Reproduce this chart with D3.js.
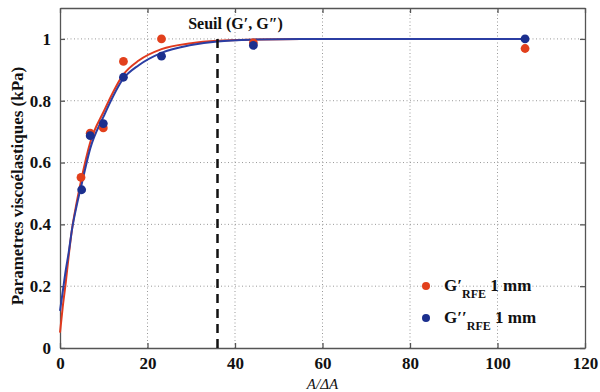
<!DOCTYPE html>
<html><head><meta charset="utf-8">
<script src="https://cdn.jsdelivr.net/npm/d3@7"></script>
<style>body{margin:0;background:#fff}svg{display:block}</style>
</head><body>
<script>
// Data
const gPrimeX = [4.8, 6.9, 9.9, 14.5, 23.2, 44.2, 106.3];
const gPrimeY = [0.552, 0.695, 0.712, 0.927, 1.0, 0.987, 0.969];
const gSecondX = [4.95, 6.9, 9.9, 14.5, 23.2, 44.2, 106.3];
const gSecondY = [0.512, 0.687, 0.726, 0.876, 0.944, 0.979, 1.0];
// fitted curves
const fitPrimeX = [0, 0.6, 1.3, 2.0, 2.7, 3.8, 4.8, 6.9, 10, 14.5, 18, 23.2, 30, 36, 45, 55, 106.3];
const fitPrimeY = [0.05, 0.13, 0.21, 0.3, 0.38, 0.47, 0.54, 0.665, 0.765, 0.885, 0.93, 0.967, 0.986, 0.994, 0.998, 1.0, 1.0];
const fitSecondX = [0, 0.6, 1.3, 2.0, 2.7, 3.8, 4.95, 6.9, 10, 14.5, 18, 23.2, 30, 36, 45, 55, 106.3];
const fitSecondY = [0.12, 0.18, 0.25, 0.31, 0.38, 0.46, 0.53, 0.645, 0.75, 0.872, 0.915, 0.955, 0.98, 0.992, 0.998, 1.0, 1.0];
const xTicks = [0, 20, 40, 60, 80, 100, 120];
const yTicks = [0, 0.2, 0.4, 0.6, 0.8, 1];
const seuilX = 36;
const seuilY = 1.0;
const seuilLabel = "Seuil (G\u2032, G\u2033)";
const redC = "#e2401c", blueC = "#1b2f8e";
const redLine = "#e03a1e", blueLine = "#2b3ea3";

const W = 600, H = 392;
const m = {l: 60, r: 15, t: 8, b: 44};
const svg = d3.select("body").append("svg").attr("width", W).attr("height", H);
const x = d3.scaleLinear().domain([0, 120]).range([m.l, W - m.r]);
const y = d3.scaleLinear().domain([0, 1.1]).range([H - m.b, m.t]);
const font = "'Liberation Serif','Times New Roman',serif";

// grid
const g = svg.append("g");
g.selectAll(".gx").data(xTicks.slice(1, -1)).join("line")
  .attr("x1", d => x(d)).attr("x2", d => x(d)).attr("y1", y(0)).attr("y2", y(1.1))
  .attr("stroke", "#999").attr("stroke-width", 1).attr("stroke-dasharray", "1,2.5");
g.selectAll(".gy").data(yTicks.slice(1)).join("line")
  .attr("x1", x(0)).attr("x2", x(120)).attr("y1", d => y(d)).attr("y2", d => y(d))
  .attr("stroke", "#999").attr("stroke-width", 1).attr("stroke-dasharray", "1,2.5");

// axes
const axB = svg.append("g").attr("transform", `translate(0,${y(0)})`)
  .call(d3.axisBottom(x).tickValues(xTicks).tickSizeInner(-5).tickSizeOuter(0).tickPadding(9).tickFormat(d3.format("d")));
const axL = svg.append("g").attr("transform", `translate(${x(0)},0)`)
  .call(d3.axisLeft(y).tickValues(yTicks).tickSizeInner(-5).tickSizeOuter(0).tickPadding(9).tickFormat(d => d === 0 || d === 1 ? d3.format("d")(d) : d3.format(".1f")(d)));
const axT = svg.append("g").attr("transform", `translate(0,${y(1.1)})`)
  .call(d3.axisTop(x).tickValues(xTicks).tickSizeInner(-5).tickSizeOuter(0).tickFormat(""));
const axR = svg.append("g").attr("transform", `translate(${x(120)},0)`)
  .call(d3.axisRight(y).tickValues(yTicks).tickSizeInner(-5).tickSizeOuter(0).tickFormat(""));
[axB, axL, axT, axR].forEach(a => {
  a.selectAll("path").attr("stroke", "#555").attr("stroke-width", 1.3);
  a.selectAll("line").attr("stroke", "#555").attr("stroke-width", 1.3);
  a.selectAll("text").attr("font-family", font).attr("font-weight", "bold").attr("font-size", 17).attr("fill", "#111");
});

// fitted lines
const line = d3.line().x(d => x(d[0])).y(d => y(d[1])).curve(d3.curveMonotoneX);
svg.append("path").datum(fitPrimeX.map((v, i) => [v, fitPrimeY[i]]))
  .attr("d", line).attr("fill", "none").attr("stroke", redLine).attr("stroke-width", 2);
svg.append("path").datum(fitSecondX.map((v, i) => [v, fitSecondY[i]]))
  .attr("d", line).attr("fill", "none").attr("stroke", blueLine).attr("stroke-width", 2);

// threshold
svg.append("line").attr("x1", x(seuilX)).attr("x2", x(seuilX)).attr("y1", y(0)).attr("y2", y(seuilY))
  .attr("stroke", "#111").attr("stroke-width", 2.5).attr("stroke-dasharray", "9,6");
svg.append("text").attr("x", x(seuilX) + 18).attr("y", 29).attr("text-anchor", "middle")
  .attr("font-family", font).attr("font-weight", "bold").attr("font-size", 16).attr("fill", "#111").text(seuilLabel);

// points
svg.append("g").selectAll("circle").data(gPrimeX.map((v, i) => [v, gPrimeY[i]])).join("circle")
  .attr("cx", d => x(d[0])).attr("cy", d => y(d[1])).attr("r", 4.4).attr("fill", redC);
svg.append("g").selectAll("circle").data(gSecondX.map((v, i) => [v, gSecondY[i]])).join("circle")
  .attr("cx", d => x(d[0])).attr("cy", d => y(d[1])).attr("r", 4.4).attr("fill", blueC);

// labels
svg.append("text").attr("transform", `translate(23,${(y(0) + y(1.1)) / 2 + 8}) rotate(-90)`)
  .attr("text-anchor", "middle").attr("font-family", font).attr("font-weight", "bold").attr("font-size", 17)
  .attr("fill", "#111").text("Parametres viscoélastiques (kPa)");
svg.append("text").attr("x", x(60)).attr("y", 389).attr("text-anchor", "middle")
  .attr("font-family", font).attr("font-style", "italic").attr("font-size", 15).attr("fill", "#111").text("A/\u0394A");

// legend
const leg = [{c: redC, n: "G\u2032", ly: 286}, {c: blueC, n: "G\u2032\u2032", ly: 318}];
leg.forEach(d => {
  svg.append("circle").attr("cx", 426).attr("cy", d.ly).attr("r", 4).attr("fill", d.c);
  const t = svg.append("text").attr("x", 444).attr("y", d.ly + 5).attr("font-family", font)
    .attr("font-weight", "bold").attr("font-size", 17).attr("fill", "#111");
  t.append("tspan").text(d.n);
  t.append("tspan").attr("dy", 7).attr("font-size", 12).text("RFE");
  t.append("tspan").attr("dy", -7).text(" 1 mm");
});
</script>
</body></html>
